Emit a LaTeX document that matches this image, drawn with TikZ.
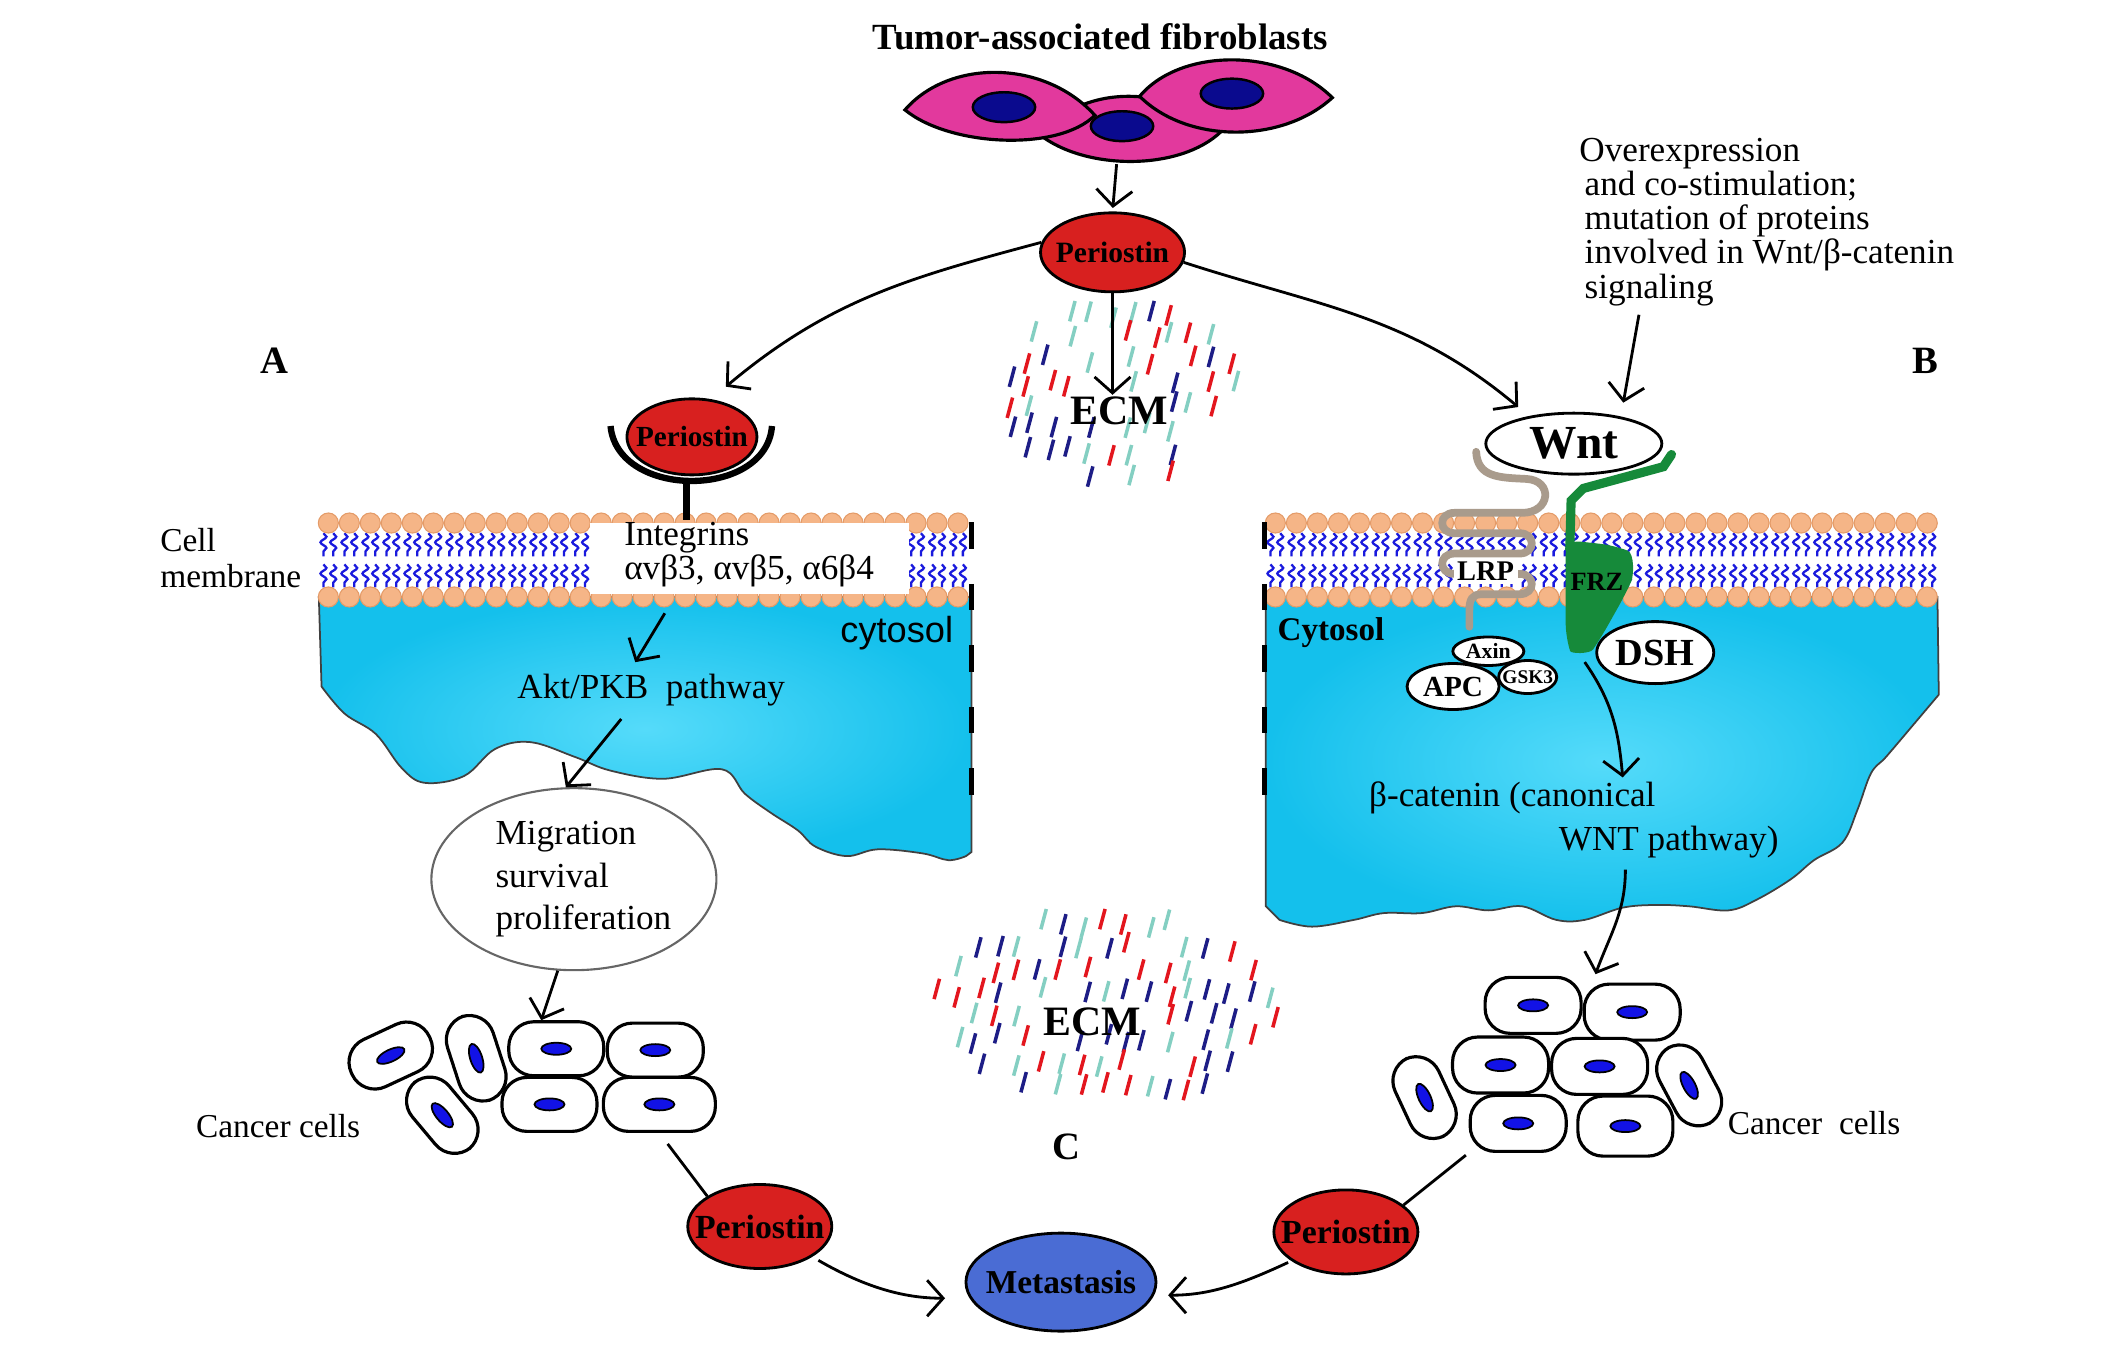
\documentclass[tikz,border=0pt]{standalone}
\usepackage{fontspec}
\setmainfont{Liberation Serif}
\newfontfamily\arialfont{Liberation Sans}
\usepackage{tikz}
\usetikzlibrary{shapes.geometric}
\usetikzlibrary{arrows.meta}
\usetikzlibrary{decorations.pathmorphing}

\definecolor{perired}{HTML}{D8201F}
\definecolor{metablue}{HTML}{4A6CD4}
\definecolor{cytoL}{HTML}{55DBFA}
\definecolor{cyto}{HTML}{14C0EC}
\definecolor{headc}{HTML}{F5B587}
\definecolor{headd}{HTML}{E49B68}
\definecolor{tailc}{HTML}{1A1ADD}
\definecolor{frzc}{HTML}{168A3A}
\definecolor{lrpc}{HTML}{A99B8C}
\definecolor{fibroc}{HTML}{E2399D}
\definecolor{fibnucc}{HTML}{0A0A8E}
\definecolor{cellnucc}{HTML}{1212E6}
\definecolor{ecmred}{HTML}{E3161E}
\definecolor{ecmnavy}{HTML}{1D1D86}
\definecolor{ecmteal}{HTML}{84CFC2}

\newcommand{\fsz}[2]{\fontsize{#1}{#2}\selectfont}
\newcommand{\inlbl}[1]{\makebox[0pt]{#1}}

\tikzset{
  arr/.style={line width=0.8pt, -{Straight Barb[length=1.6mm,width=3.6mm]}},
  peri/.style={ellipse, draw, line width=0.8pt, fill=perired, inner sep=0pt},
  bubble/.style={ellipse, draw, line width=0.8pt, fill=white, inner sep=0pt},
  lipidtail/.style={draw=tailc, line width=0.65pt, decorate, decoration={snake, segment length=3.2pt, amplitude=0.85pt}},
  lipidhead/.style={fill=headc, draw=headd, line width=0.3pt},
  cutline/.style={line width=1.2pt, dash pattern=on 7.5pt off 10pt},
  ccell/.style={draw, fill=white, line width=0.9pt, rounded corners=0.25cm, inner sep=0pt},
  cnuc/.style={ellipse, draw, fill=cellnucc, line width=0.5pt, minimum width=0.3cm, minimum height=0.12cm, inner sep=0pt},
  fibro/.style={fill=fibroc, draw=black, line width=0.9pt},
  fibnuc/.style={fill=fibnucc, draw=black, line width=0.7pt},
  ecmdash/.style={line width=1pt},
  lbl/.style={font=\bfseries\fsz{11}{13}}
}

\pgfmathdeclarerandomlist{ecmcol}{{ecmred}{ecmnavy}{ecmteal}}

\begin{document}
\begin{tikzpicture}[x=0.01357cm, y=0.01357cm]
\useasboundingbox (0,0) rectangle (1567,-993);

% cytosol of both cells
\shade[draw=black!75, line width=0.5pt, inner color=cytoL, outer color=cyto]
  (235,-440) -- (716,-440) -- (716,-628) -- plot[smooth, tension=0.6] coordinates {(712,-631) (699,-634) (680,-629) (647,-626) (624,-631) (601,-624) (588,-612) (568,-599) (549,-585) (532,-567) (489,-574) (450,-568) (424,-558) (391,-547) (365,-552) (342,-572) (313,-577) (296,-566) (277,-541) (254,-526) (237,-506)} -- cycle;
\shade[draw=black!75, line width=0.5pt, inner color=cytoL, outer color=cyto]
  (933,-440) -- (1428,-440) -- (1429,-512) -- plot[smooth, tension=0.6] coordinates {(1407,-538) (1390,-558) (1379,-570) (1369,-597) (1358,-621) (1337,-634) (1320,-648) (1295,-663) (1274,-671) (1245,-668) (1221,-667) (1196,-669) (1168,-678) (1147,-678) (1122,-668) (1097,-671) (1073,-668) (1048,-673) (1020,-673) (998,-678) (967,-683) (943,-678)} -- (933,-668) -- cycle;

% lipid bilayers
\foreach \k in {0,...,30}
{
	\pgfmathsetmacro{\hx}{242+15.47*\k}
	\foreach \s in {-1,1}
	{
		\draw[lipidtail] (\hx+3.6*\s,-393) -- (\hx+3.6*\s,-410);
		\draw[lipidtail] (\hx+3.6*\s,-416) -- (\hx+3.6*\s,-433);
	}
	\draw[lipidhead] (\hx,-385.5) circle (7.4);
	\draw[lipidhead] (\hx,-440) circle (7.4);
}
\foreach \k in {0,...,31}
{
	\pgfmathsetmacro{\hx}{940+15.5*\k}
	\foreach \s in {-1,1}
	{
		\draw[lipidtail] (\hx+3.6*\s,-393) -- (\hx+3.6*\s,-410);
		\draw[lipidtail] (\hx+3.6*\s,-416) -- (\hx+3.6*\s,-433);
	}
	\draw[lipidhead] (\hx,-385.5) circle (7.4);
	\draw[lipidhead] (\hx,-440) circle (7.4);
}

\draw[cutline] (716,-385) -- (716,-610);
\draw[cutline] (932,-385) -- (932,-600);

% integrin receptor
\node[fill=white, minimum width=3.19cm, minimum height=0.71cm, inner sep=0pt] (integbox) at (552.5,-412) {};
\node[anchor=west, align=left, font=\fsz{10}{9.7}] (integ) at (451,-408.5) {Integrins\\αvβ3, αvβ5, α6β4};
\draw[line width=1.8pt] (450,-314) .. controls (455,-368) and (565,-368) .. (569,-314);
\draw[line width=2pt] (506,-354) -- (506,-383);
\node[peri, minimum width=1.30cm, minimum height=0.76cm, font=\bfseries\fsz{8.3}{10}] (periR) at (510,-322) {\inlbl{Periostin}};

% LRP and FRZ
\draw[draw=lrpc, line width=2.2pt, line cap=round] (1088,-333) .. controls (1089,-352) and (1105,-352) .. (1125,-353) .. controls (1145,-354) and (1143,-378) .. (1122,-378) -- (1072,-378) .. controls (1060,-378) and (1060,-393) .. (1072,-393) -- (1120,-393) .. controls (1132,-393) and (1132,-408) .. (1120,-408) -- (1072,-408) .. controls (1060,-408) and (1060,-423) .. (1072,-423) -- (1120,-423) .. controls (1132,-423) and (1132,-438) .. (1120,-438) -- (1092,-438) .. controls (1085,-438) and (1083,-442) .. (1083,-450) -- (1083,-462);
\node[fill=white, inner sep=1pt, font=\bfseries\fsz{8.1}{9}] (lrp) at (1095,-421) {LRP};
\draw[frzc, line width=2.6pt, line cap=round] (1232,-335) -- (1226,-344) -- (1167,-360) -- (1158,-369) -- (1157,-405);
\fill[frzc, rounded corners=4] (1154,-398) -- (1190,-402) .. controls (1205,-408) and (1204,-425) .. (1198,-438) -- (1180,-470) .. controls (1172,-482) and (1158,-482) .. (1154,-470) -- cycle;
\node[font=\bfseries\fsz{7.5}{9}] (frz) at (1177,-429) {FRZ};

\node[bubble, minimum width=1.76cm, minimum height=0.61cm, font=\bfseries\fsz{13.5}{15}] (wnt) at (1160,-327) {\inlbl{Wnt}};
\node[bubble, minimum width=0.71cm, minimum height=0.285cm, font=\bfseries\fsz{6.2}{7}] (axin) at (1097,-480) {\inlbl{Axin}};
\node[bubble, minimum width=0.58cm, minimum height=0.33cm, font=\bfseries\fsz{5.5}{6}] (gsk) at (1126,-499) {\inlbl{GSK3}};
\node[bubble, minimum width=0.92cm, minimum height=0.46cm, font=\bfseries\fsz{8.3}{9}] (apc) at (1071,-506) {\inlbl{APC}};
\node[bubble, minimum width=1.17cm, minimum height=0.62cm, font=\bfseries\fsz{10.9}{12}] (dsh) at (1220,-481) {\inlbl{DSH}};

% ECM fibres
\pgfmathsetseed{3}
\foreach \i in {0,...,11}
{
	\foreach \j in {0,...,7}
	{
		\pgfmathsetmacro{\ex}{742+15*\i+4*rand}
		\pgfmathsetmacro{\ey}{238+17*\j+4*rand}
		\pgfmathtruncatemacro{\keep}{(((\ex-826)/90)^2+((\ey-298)/68)^2<1) && (rnd>0.3) && !(abs(\ex-825)<38 && abs(\ey-303)<13)}
		\pgfmathrandomitem{\ec}{ecmcol}
		\ifnum\keep=1 \draw[ecmdash, \ec] (\ex,-\ey) -- ++(4,15); \fi
	}
}
\foreach \i in {0,...,16}
{
	\foreach \j in {0,...,7}
	{
		\pgfmathsetmacro{\ex}{688+15.5*\i+4*rand}
		\pgfmathsetmacro{\ey}{688+17*\j+4*rand}
		\pgfmathtruncatemacro{\keep}{(((\ex-812)/132)^2+((\ey-750)/70)^2<1) && (rnd>0.25) && !(abs(\ex-805)<40 && abs(\ey-753)<13)}
		\pgfmathrandomitem{\ec}{ecmcol}
		\ifnum\keep=1 \draw[ecmdash, \ec] (\ex,-\ey) -- ++(4,15); \fi
	}
}
\node[font=\bfseries\fsz{11.9}{13}] (ecmT) at (825,-303) {ECM};
\node[font=\bfseries\fsz{11.9}{13}] (ecmB) at (805,-753) {ECM};

% tumor-associated fibroblasts
\node[font=\bfseries\fsz{10.5}{12}] (title) at (811,-27) {Tumor-associated fibroblasts};
\filldraw[fibro] (766,-99) .. controls (800,-62) and (860,-62) .. (900,-97) .. controls (870,-126) and (800,-126) .. cycle;
\filldraw[fibro] (667,-81) .. controls (700,-43) and (770,-44) .. (807,-85) .. controls (780,-112) and (700,-108) .. cycle;
\filldraw[fibro] (840,-71) .. controls (870,-35) and (945,-35) .. (982,-72) .. controls (945,-106) and (875,-106) .. cycle;
\filldraw[fibnuc] (740,-79) ellipse (23 and 11);
\filldraw[fibnuc] (827,-93) ellipse (23 and 11);
\filldraw[fibnuc] (908,-69) ellipse (23 and 11);
\coordinate (fibout) at (823,-121);

\node[peri, minimum width=1.44cm, minimum height=0.79cm, font=\bfseries\fsz{8.4}{10}] (peri) at (820,-186) {\inlbl{Periostin}};
\coordinate (ecmin) at (820,-291);
\coordinate (wntin) at (1119,-300);
\coordinate (periRin) at (535,-285);
\draw[arr, shorten >=1pt] (fibout) -- (peri.north);
\draw[arr] (peri.south) -- (ecmin);
\draw[arr] (peri.172) to[out=195, in=40] (periRin);
\draw[arr] (peri.-8) to[out=-18, in=140] (wntin);

% labels
\node[lbl] (labA) at (202,-266) {A};
\node[lbl] (labB) at (1419,-266) {B};
\node[lbl] (labC) at (786,-845) {C};
\node[anchor=west, align=left, font=\fsz{9.5}{10.4}] (cellmem) at (109,-411.5) {Cell\\membrane};
\node[font=\arialfont\fsz{10.3}{12}] (cytl) at (661,-467) {cytosol};
\node[font=\bfseries\fsz{9.4}{11}] (cytr) at (981,-466) {Cytosol};
\node[font=\fsz{10}{12}] (akt) at (480,-509) {Akt/PKB\ \ pathway};
\node[anchor=west, align=left, font=\fsz{10}{9.75}] (overexp) at (1155,-163.5) {Overexpression\\\hspace*{1.5pt}and co-stimulation;\\\hspace*{1.5pt}mutation of proteins\\\hspace*{1.5pt}involved in Wnt/β-catenin\\\hspace*{1.5pt}signaling};
\node[anchor=west, font=\fsz{10}{12}] (beta1) at (1000,-588) {β-catenin (canonical};
\node[anchor=east, font=\fsz{10}{12}] (beta2) at (1320,-621) {WNT pathway)};

% migration, survival, proliferation
\node[ellipse, draw=black!60, line width=0.6pt, minimum width=2.85cm, minimum height=1.82cm, inner sep=0pt] (migr) at (423,-648) {};
\node[align=left, font=\fsz{10}{11.97}] (migrtxt) at (430,-648) {Migration\\survival\\proliferation};

% cancer cells
\foreach \cx/\cy/\cr/\cw/\ch [count=\i] in {288/-778/25/0.86cm/0.52cm, 351/-780/-72/0.88cm/0.48cm, 326/-822/-50/0.86cm/0.48cm, 410/-773/0/0.95cm/0.54cm, 483/-774/0/0.96cm/0.54cm, 405/-814/0/0.95cm/0.54cm, 486/-814/0/1.12cm/0.54cm}
{
	\node[ccell, rotate=\cr, minimum width=\cw, minimum height=\ch] (lcell\i) at (\cx,\cy) {};
	\node[cnuc, rotate=\cr] (lnuc\i) at (\cx,\cy) {};
}
\foreach \cx/\cy/\cr/\cw/\ch [count=\i] in {1130/-741/0/0.96cm/0.56cm, 1203/-746/0/0.96cm/0.56cm, 1106/-785/0/0.96cm/0.56cm, 1179/-786/0/0.96cm/0.56cm, 1050/-809/-65/0.86cm/0.48cm, 1245/-800/-62/0.86cm/0.48cm, 1119/-828/0/0.96cm/0.56cm, 1198/-830/0/0.95cm/0.6cm}
{
	\node[ccell, rotate=\cr, minimum width=\cw, minimum height=\ch] (rcell\i) at (\cx,\cy) {};
	\node[cnuc, rotate=\cr] (rnuc\i) at (\cx,\cy) {};
}
\node[font=\fsz{9.5}{11}] (lcancer) at (205,-830) {Cancer cells};
\node[font=\fsz{9.5}{11}] (rcancer) at (1337,-828) {Cancer\ \ cells};

% pathway arrows
\coordinate (integout) at (490,-452);
\coordinate (frzout) at (1168,-488);
\coordinate (betain) at (1196,-573);
\coordinate (betaout) at (1198,-641);
\coordinate (rcellin) at (1176,-718);
\coordinate (ovout) at (1208,-232);
\draw[arr] (integout) -- ([xshift=-0.16cm]akt.north);
\draw[arr] ([xshift=-0.3cm]akt.south) -- (migr.95);
\draw[arr] (migr.260) -- ([xshift=-0.15cm]lcell4.north);
\draw[arr] (frzout) to[out=-55, in=95] (betain);
\draw[arr] (betaout) to[out=-90, in=70] (rcellin);
\draw[arr, shorten >=4pt] (ovout) -- (wnt.30);

% periostin and metastasis
\node[peri, minimum width=1.44cm, minimum height=0.84cm, font=\bfseries\fsz{9.6}{11}] (periL) at (560,-904) {\inlbl{Periostin}};
\node[peri, minimum width=1.44cm, minimum height=0.84cm, font=\bfseries\fsz{9.6}{11}] (periRt) at (992,-908) {\inlbl{Periostin}};
\node[ellipse, draw, line width=0.8pt, fill=metablue, inner sep=0pt, minimum width=1.90cm, minimum height=0.98cm, font=\bfseries\fsz{9.5}{11}] (meta) at (782,-945) {\inlbl{Metastasis}};
\draw[line width=0.8pt, shorten <=3.9pt] (lcell7.south) -- (periL.150);
\draw[line width=0.8pt, shorten <=1pt] (rcell7.south west) -- (periRt.25);
\draw[arr, shorten <=2pt, shorten >=7pt] (periL.-30) to[out=-30, in=180] (meta.190);
\draw[arr, shorten <=1pt, shorten >=4pt] (periRt.208) to[out=205, in=0] (meta.-8);

\end{tikzpicture}
\end{document}
